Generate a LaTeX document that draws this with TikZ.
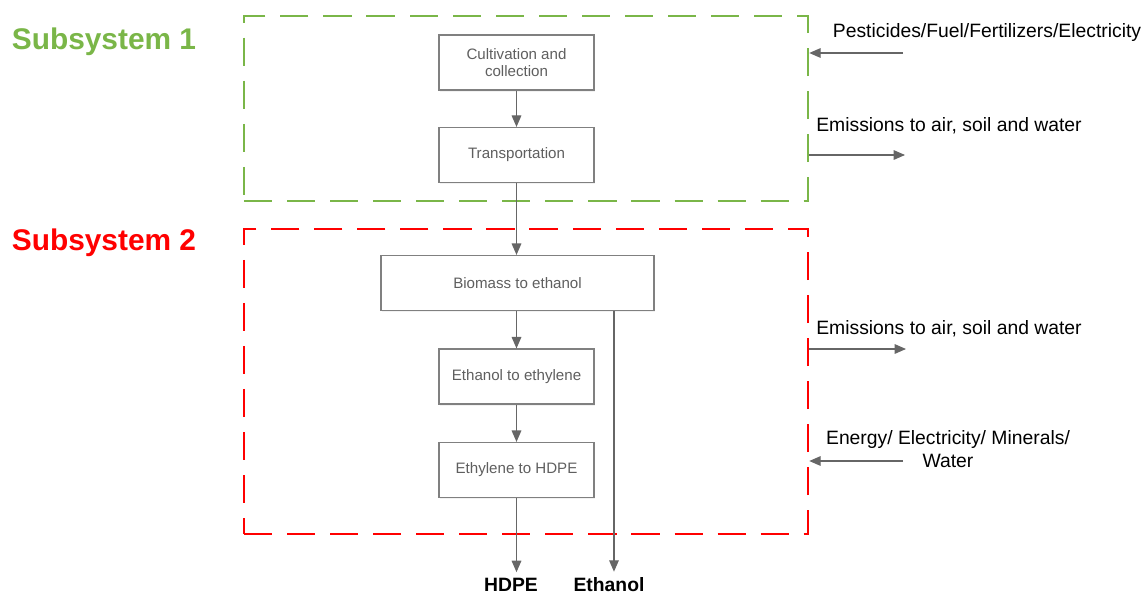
\documentclass[tikz,border=0pt]{standalone}
\usepackage{fontspec}
\setmainfont{Liberation Sans}
\usetikzlibrary{arrows.meta,shadows}
\tikzstyle{stage} = [rectangle, draw=boxgray, line width=0.7pt, fill=white, text=textgray, align=center, minimum width=3.1cm, minimum height=1.1cm, font=\fontsize{8.6}{9.7}\selectfont, drop shadow={opacity=0.1,shadow xshift=0.4pt,shadow yshift=-1pt}]
\tikzstyle{sysbound} = [rectangle, dash pattern=on 16pt off 8.5pt, line width=1.5pt, minimum width=11.28cm, inner sep=0pt]
\tikzstyle{flow} = [draw=flowgray, line width=0.6pt, -{Triangle[length=6.5pt,width=5.5pt]}]
\tikzstyle{side} = [font=\fontsize{11}{13.1}\selectfont, align=center]
\tikzstyle{product} = [font=\fontsize{11}{13}\selectfont\bfseries]
\tikzstyle{syslabel} = [font=\fontsize{17}{20}\selectfont\bfseries]
\definecolor{sysgreen}{HTML}{7AB648}
\definecolor{sysred}{HTML}{FF0000}
\definecolor{flowgray}{HTML}{666666}
\definecolor{boxgray}{HTML}{808080}
\definecolor{textgray}{HTML}{5F5F5F}

\begin{document}
\begin{tikzpicture}[x=0.02cm,y=-0.02cm]
    \useasboundingbox (0,0) rectangle (1146,595);

    \node (sub1) [sysbound,draw=sysgreen,minimum height=3.7cm] at (526,108.5) {};
    \node (sub2) [sysbound,draw=sysred,minimum height=6.1cm] at (526,381.5) {};
    \node (lab1) [syslabel,text=sysgreen] at (104,42) {Subsystem 1};
    \node (lab2) [syslabel,text=sysred] at (104,243) {Subsystem 2};

    \node (cult) [stage] at (516.5,62.5) {Cultivation and\\ collection};
    \node (trans) [stage] at (516.5,155) {Transportation};
    \node (b2e) [stage,minimum width=5.46cm] at (517.5,283) {Biomass to ethanol};
    \node (e2e) [stage] at (516.5,376.5) {Ethanol to ethylene};
    \node (e2h) [stage] at (516.5,470) {Ethylene to HDPE};

    \node (hdpe) [product] at (511,585) {HDPE};
    \node (ethanol) [product] at (609,585) {Ethanol};
    \coordinate (etout) at ([xshift=1.93cm]b2e.south);

    \draw [flow] (cult) -- (trans);
    \draw [flow] (trans.south) -- (trans.south |- b2e.north);
    \draw [flow] (b2e.south -| e2e.north) -- (e2e.north);
    \draw [flow] (e2e) -- (e2h);
    \draw [flow] (e2h.south) -- (e2h.south |- hdpe.north);
    \draw [flow] (etout) -- (etout |- ethanol.north);

    \node (pest) [side] at (987,33) {Pesticides/Fuel/Fertilizers/Electricity};
    \node (em1) [side] at (949,126) {Emissions to air, soil and water};
    \node (em2) [side] at (949,329) {Emissions to air, soil and water};
    \node (energy) [side] at (948,449) {Energy/ Electricity/ Minerals/\\ Water};
    \coordinate (pestsrc) at (903,53);
    \coordinate (em1dst) at (905,155);
    \coordinate (em2dst) at (906,349);
    \coordinate (ensrc) at (903,461);

    \draw [flow] (pestsrc) -- (pestsrc -| sub1.east);
    \draw [flow] (sub1.east |- em1dst) -- (em1dst);
    \draw [flow] (sub2.east |- em2dst) -- (em2dst);
    \draw [flow] (ensrc) -- (ensrc -| sub2.east);
\end{tikzpicture}
\end{document}
